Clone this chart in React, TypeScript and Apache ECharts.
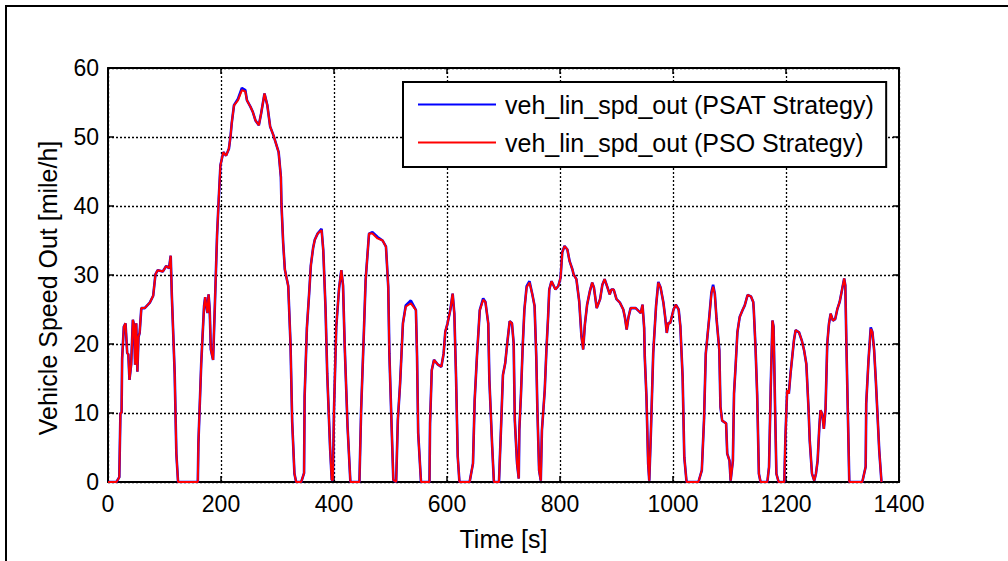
import React, { useEffect, useRef } from "react";
import * as echarts from "echarts";

// Time stamps [s] shared by both traces
const timeS = [
  0, 15, 20, 22, 24, 25, 28, 31, 34, 36, 38, 41, 44, 46, 48, 50, 52, 54, 56, 59, 65, 74, 80, 84, 88, 97, 103, 108, 111, 113, 118, 121, 124,
  159, 160, 165, 170, 172, 174, 176, 178, 180, 182, 186, 189, 193, 196, 199, 204, 209, 214, 217, 219, 223, 230, 237, 243, 246, 252, 256, 261, 267, 271, 277, 282, 287, 293, 302, 306, 307, 310, 313, 319, 323, 326, 330, 333,
  342, 347, 348, 352, 356, 359, 363, 366, 371, 378, 381, 385, 388, 393, 396, 398, 400, 404, 409, 413, 416, 419, 424, 429,
  445, 448, 453, 456, 462, 468, 477, 486, 492, 496, 498, 502, 505, 510, 513, 517, 522, 527, 536, 545, 547, 549, 554,
  569, 570, 573, 577, 584, 590, 594, 597, 601, 606, 610, 613, 616, 619, 622,
  640, 646, 649, 653, 658, 664, 668, 673, 675, 680, 683,
  692, 693, 696, 699, 703, 707, 711, 715, 718, 720, 724, 727, 728, 731, 734, 737, 741, 746, 751, 755, 758, 760, 763, 766,
  768, 773, 776, 779, 781, 785, 792, 797, 801, 804, 808, 813, 817, 822, 824, 829, 834, 838, 841, 844, 848, 853, 857, 860,
  865, 871, 875, 879, 884, 888, 891, 895, 900, 906, 912, 915, 918, 921, 925, 930, 934, 939, 943, 946, 949, 950, 953, 956, 958,
  961, 965, 970, 974, 978, 983, 986, 989, 992, 995, 1001, 1005, 1010, 1013, 1017, 1020, 1024,
  1045, 1051, 1055, 1058, 1064, 1068, 1071, 1074, 1077, 1082, 1084, 1087, 1094, 1096, 1100, 1102,
  1106, 1108, 1111, 1114, 1118, 1123, 1127, 1132, 1138, 1142, 1143, 1146, 1149, 1152, 1155,
  1167, 1170, 1173, 1176, 1178, 1181, 1183, 1187,
  1197, 1199, 1202, 1205, 1208, 1211, 1214, 1217, 1223, 1228, 1232, 1236, 1240, 1242, 1246, 1250, 1253, 1256, 1259, 1261, 1264, 1267, 1270,
  1273, 1276, 1279, 1283, 1287, 1291, 1295, 1299, 1303, 1305, 1307, 1310, 1312,
  1335, 1341, 1342, 1346, 1350, 1353, 1356, 1359, 1365, 1369,
];

// veh_lin_spd_out (PSO Strategy) [mile/h]
const psoSpeed = [
  0, 0, 0.7, 10, 10, 17.7, 22.5, 23, 18.7, 18.5, 14.8, 17, 23.5, 22.8, 17, 23, 16, 21, 21.6, 25.2, 25.2, 26, 27, 30.1, 30.7, 30.5, 31.3, 31, 32.8, 27, 15.8, 4.1, 0,
  0, 5.6, 17.2, 25.5, 26.8, 25.5, 24.5, 27.2, 25, 19.2, 17.7, 25.2, 35.7, 41, 45.9, 47.8, 47.3, 48.3, 50.2, 52, 54.6, 55.3, 56.8, 56.6, 55.3, 54.4, 53.7, 52.4, 51.7, 53.4, 56.3, 54.6, 51.5, 50.2, 47.8, 44.2, 40.3, 34.7, 30.8, 28.4, 20.1, 8.7, 1.2, 0,
  0, 1.3, 12.4, 22.3, 27.3, 31.4, 33.9, 35.1, 36, 36.5, 33.6, 25.2, 15.7, 5.1, 0.3, 0.3, 10.4, 22.5, 28.1, 30.7, 28.5, 19.6, 8, 0,
  0, 10.4, 22, 29.3, 36, 36, 35.3, 35, 34.1, 28.3, 18.6, 8, 0.3, 0, 9, 14.3, 23, 25.4, 25.9, 24.9, 18.2, 7.1, 0,
  0, 8.5, 16.2, 17.7, 17, 16.7, 18.6, 21.8, 23, 25, 27.3, 24.4, 15.3, 3.7, 0,
  0, 2.7, 11.9, 18.2, 24.9, 26.4, 26.1, 23, 14.8, 5.1, 0,
  0, 2.2, 8.7, 15.5, 17.2, 20.4, 23.3, 23, 20.1, 9, 2.7, 0.5, 7.5, 12.9, 19.7, 25, 28.2, 28.9, 27.2, 25.5, 18.2, 10.4, 1.7, 0.2,
  7.5, 13.3, 19.2, 24, 27.9, 29.1, 27.9, 28.4, 29.6, 33.3, 34.2, 33.7, 32, 30.8, 30.1, 29.4, 26.2, 21.1, 19.2, 22.8, 25.7, 27.7, 28.9, 28.2,
  25.2, 26.5, 28.6, 29.4, 28.2, 27.2, 27.9, 27.9, 26.5, 26, 25, 23.8, 22.1, 23.8, 25.2, 25.2, 25.2, 24.8, 24.5, 25.7, 22.3, 18.2, 12.4, 2.7, 0.2,
  7.5, 18.7, 25.5, 28.9, 28.2, 26, 24, 21.6, 23.1, 23, 25, 25.7, 25, 22.6, 15.3, 3.6, 0,
  0, 1.7, 9.2, 18.6, 23.7, 27.3, 28.3, 27.3, 23.7, 19.1, 10.9, 8.9, 8.5, 4.1, 3.1, 0.2,
  3.1, 12.8, 17.1, 21.7, 23.9, 24.9, 25.6, 27.1, 26.9, 26.1, 24.9, 19.6, 12.6, 1.2, 0,
  0, 2.2, 13.8, 23.4, 22.5, 9.4, 1.2, 0,
  0, 6.5, 13.3, 12.8, 15.7, 18.1, 20.5, 22, 21.7, 20.5, 19.1, 17.1, 10.4, 6, 1.2, 0.2, 1.2, 3.1, 8, 10.4, 9.9, 7.7, 10.6,
  20, 22.9, 24.4, 23.4, 23.6, 25.1, 26.1, 27.8, 29.5, 28.5, 19.6, 8, 0,
  0, 2.2, 11.4, 17.6, 22.2, 21.7, 19.1, 14.7, 4.6, 0,
];

// veh_lin_spd_out (PSAT Strategy) [mile/h]
const psatSpeed = [
  0, 0, 0.7, 10, 10, 17.9, 22.5, 23, 18.7, 18.5, 14.8, 17, 23.5, 22.8, 17, 23, 16, 21, 21.6, 25.2, 25.2, 26, 27, 30.1, 30.7, 30.5, 31.3, 31, 32.8, 27, 15.8, 4.1, 0,
  0, 5.6, 17.2, 25.5, 26.8, 25.5, 24.5, 27.2, 25, 19.2, 17.7, 25.2, 35.7, 41, 45.9, 47.8, 47.3, 48.3, 50.2, 52, 54.6, 55.5, 57.1, 56.8, 55.3, 54.4, 53.7, 52.4, 51.7, 53.4, 56.3, 54.6, 51.5, 50.2, 47.8, 44.2, 40.3, 34.7, 30.8, 28.4, 20.1, 8.7, 1.2, 0,
  0, 1.3, 12.4, 22.3, 27.3, 31.4, 33.9, 35.1, 36, 36.7, 33.6, 25.2, 15.7, 5.1, 0.3, 0.3, 10.4, 22.5, 28.1, 30.7, 28.5, 19.6, 8, 0,
  0, 10.4, 22, 29.3, 36, 36.2, 35.5, 35, 34.1, 28.3, 18.6, 8, 0.3, 0, 9, 14.3, 23, 25.6, 26.3, 24.9, 18.2, 7.1, 0,
  0, 8.5, 16.2, 17.7, 17, 16.7, 18.6, 21.8, 23, 25, 27.3, 24.4, 15.3, 3.7, 0,
  0, 2.7, 11.9, 18.2, 24.9, 26.6, 26.1, 23, 14.8, 5.1, 0,
  0, 2.2, 8.7, 15.5, 17.2, 20.4, 23.3, 23, 20.1, 9, 2.7, 0.5, 7.5, 12.9, 19.7, 25, 28.4, 29.1, 27.2, 25.5, 18.2, 10.4, 1.7, 0.2,
  7.5, 13.3, 19.2, 24, 27.9, 29.1, 27.9, 28.4, 29.6, 33.3, 34.2, 33.7, 32, 30.8, 30.1, 29.4, 26.2, 21.1, 19.2, 22.8, 25.7, 27.7, 28.9, 28.2,
  25.2, 26.5, 28.6, 29.4, 28.2, 27.2, 27.9, 27.9, 26.5, 26, 25, 23.8, 22.1, 23.8, 25.2, 25.2, 25.2, 24.8, 24.5, 25.7, 22.3, 18.2, 12.4, 2.7, 0.2,
  7.5, 18.7, 25.5, 29, 28.2, 26, 24, 21.6, 23.1, 23, 25, 25.7, 25, 22.6, 15.3, 3.6, 0,
  0, 1.7, 9.2, 18.6, 23.7, 27.5, 28.6, 27.3, 23.7, 19.1, 10.9, 8.9, 8.5, 4.1, 3.1, 0.2,
  3.1, 12.8, 17.1, 21.7, 23.9, 24.9, 25.6, 27.1, 26.9, 26.1, 24.9, 19.6, 12.6, 1.2, 0,
  0, 2.2, 13.8, 23.4, 22.5, 9.4, 1.2, 0,
  0, 6.5, 13.3, 12.8, 15.7, 18.1, 20.5, 22, 21.7, 20.5, 19.1, 17.1, 10.4, 6, 1.2, 0.2, 1.2, 3.1, 8, 10.4, 9.9, 7.7, 10.6,
  20, 22.9, 24.4, 23.4, 23.6, 25.1, 26.1, 27.8, 29.5, 28.5, 19.6, 8, 0,
  0, 2.2, 11.4, 17.6, 22.4, 21.7, 19.1, 14.7, 4.6, 0,
];

const seriesNames = ["veh_lin_spd_out (PSAT Strategy)", "veh_lin_spd_out (PSO Strategy)"];
const xTitle = "Time [s]";
const yTitle = "Vehicle Speed Out [mile/h]";

const FONT = "'Liberation Sans', Arial, Helvetica, sans-serif";

export default function App() {
  const ref = useRef<HTMLDivElement>(null);

  useEffect(() => {
    if (!ref.current) return;
    const chart = echarts.init(ref.current, undefined, { renderer: "svg" });

    const axisLine = { show: true, onZero: false, lineStyle: { color: "#000", width: 2 } };
    const axisTick = { show: true, inside: true, length: 6, lineStyle: { color: "#000", width: 1.5 } };
    const gridLine = { show: true, lineStyle: { color: "#000", width: 1.3, type: [2, 2] as any } };
    const plain = (v: number) => String(v);

    chart.setOption({
      animation: false,
      backgroundColor: "#fff",
      textStyle: { fontFamily: FONT },
      grid: { left: 108, top: 68, width: 791, height: 414, containLabel: false },
      graphic: [
        { type: "line", shape: { x1: 6, y1: 6, x2: 1008, y2: 6 }, style: { stroke: "#000", lineWidth: 2 } },
        { type: "line", shape: { x1: 6, y1: 5, x2: 6, y2: 561 }, style: { stroke: "#000", lineWidth: 2 } },
      ],
      xAxis: [
        {
          type: "value", min: 0, max: 1400, interval: 200, position: "bottom",
          name: xTitle, nameLocation: "middle", nameGap: 44,
          nameTextStyle: { fontSize: 25, color: "#000", fontFamily: FONT },
          axisLine, axisTick,
          axisLabel: { fontSize: 23, color: "#000", margin: 10, fontFamily: FONT, formatter: plain },
          splitLine: gridLine,
        },
        {
          type: "value", min: 0, max: 1400, interval: 200, position: "top",
          axisLine, axisTick, axisLabel: { show: false }, splitLine: { show: false },
        },
      ],
      yAxis: [
        {
          type: "value", min: 0, max: 60, interval: 10, position: "left",
          name: yTitle, nameLocation: "middle", nameGap: 48,
          nameTextStyle: { fontSize: 25, color: "#000", fontFamily: FONT, padding: [0, 26, 0, 0] },
          axisLine, axisTick,
          axisLabel: { fontSize: 23, color: "#000", margin: 9, fontFamily: FONT, formatter: plain },
          splitLine: gridLine,
        },
        {
          type: "value", min: 0, max: 60, interval: 10, position: "right",
          axisLine, axisTick, axisLabel: { show: false }, splitLine: { show: false },
        },
      ],
      legend: {
        left: 403, top: 82, orient: "vertical",
        icon: "rect", itemWidth: 78, itemHeight: 2, itemGap: 13,
        padding: [10, 12, 12, 15],
        borderColor: "#000", borderWidth: 2, backgroundColor: "#fff",
        textStyle: { fontSize: 25, color: "#000", lineHeight: 25, fontFamily: FONT, padding: [0, 0, 0, 4] },
        data: seriesNames,
      },
      series: [
        {
          type: "line", name: seriesNames[0], xAxisIndex: 0, yAxisIndex: 0,
          data: timeS.map((t, i) => [t, psatSpeed[i]]),
          symbol: "none", showSymbol: false,
          lineStyle: { color: "#0000ff", width: 2.6 }, itemStyle: { color: "#0000ff" },
        },
        {
          type: "line", name: seriesNames[1], xAxisIndex: 0, yAxisIndex: 0,
          data: timeS.map((t, i) => [t, psoSpeed[i]]),
          symbol: "none", showSymbol: false,
          lineStyle: { color: "#ff0000", width: 2 }, itemStyle: { color: "#ff0000" },
        },
      ],
    });

    return () => chart.dispose();
  }, []);

  return (
    <div
      ref={ref}
      style={{ position: "fixed", left: 0, top: 0, width: 1008, height: 561, background: "#fff" }}
    />
  );
}
